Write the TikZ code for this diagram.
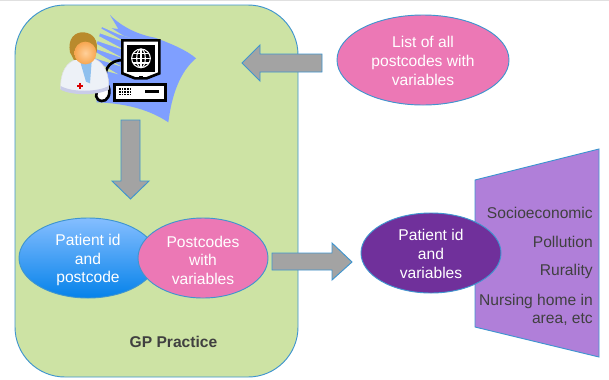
\documentclass[tikz,border=0pt]{standalone}
\usepackage{fontspec}
\setmainfont{Liberation Sans}
\usetikzlibrary{shapes.geometric}
\definecolor{edgeblue}{HTML}{3F95CF}
\definecolor{boxgreen}{HTML}{CDE3A4}
\definecolor{arrowgray}{HTML}{A3A3A3}
\definecolor{pinkfill}{HTML}{EC78B5}
\definecolor{purpledark}{HTML}{70309B}
\definecolor{purplelight}{HTML}{B07FD9}
\definecolor{flagblue}{HTML}{7F9FFF}
\definecolor{labelgray}{HTML}{404040}
\definecolor{hairbrown}{HTML}{B98A2C}
\definecolor{skinlight}{HTML}{FFD09A}
\definecolor{skindark}{HTML}{F7A650}
\definecolor{coatshade}{HTML}{C9CCE8}
\definecolor{tiewhite}{HTML}{EDF1F7}
\definecolor{tieblue}{HTML}{8FC0EE}
\definecolor{ovaltop}{HTML}{85BEFF}
\definecolor{ovalbottom}{HTML}{0582EA}
\newcommand\lift[1]{\rule{0pt}{#1}}
\tikzset{
  txt/.style={font=\fontsize{11.7}{13.9}\selectfont},
  oval/.style={ellipse,draw=edgeblue,line width=0.7pt,inner sep=0pt,align=center,text=white,txt},
  blockarrow/.style={draw=edgeblue,fill=arrowgray,line width=0.7pt,line join=miter},
  sidelabel/.style={anchor=east,align=right,text=labelgray,txt,inner sep=0pt},
}
\begin{document}
\begin{tikzpicture}[x=0.75pt,y=-0.75pt]
\useasboundingbox (0,0) rectangle (609,379);
\fill[white] (0,0) rectangle (609,379);
\fill[black!12] (0,0) rectangle (609,1.2);
% GP practice box
\draw[draw=edgeblue,fill=boxgreen,line width=0.7pt,rounded corners=37.5pt] (15,5) rectangle (298,377);
\node[font=\fontsize{11.7}{13.9}\selectfont\bfseries,text=labelgray,inner sep=0pt] (gp) at (173.5,341.5) {GP Practice};
% clinician icon, in the coordinates of a 3x crop at (40,15)
\begin{scope}[shift={(40,15)},x=0.25pt,y=-0.25pt]
  \fill[flagblue] (210,0) .. controls (250,40) and (300,60) .. (345,68)
     .. controls (390,85) and (440,105) .. (468,130)
     .. controls (420,170) and (395,240) .. (385,322)
     .. controls (330,285) and (260,265) .. (170,262)
     -- (160,120) -- (186,36) -- (235,42) -- cycle;
  % light streaks between the flag's ribbons
  \fill[boxgreen] (180,18) -- (250,62) -- (270,68) -- (235,58) -- (186,36) -- cycle;
  \fill[boxgreen] (150,30) -- (186,42) -- (262,84) -- (180,55) -- cycle;
  \fill[boxgreen] (150,55) -- (180,65) -- (260,108) -- (172,78) -- cycle;
  \fill[boxgreen] (150,80) -- (172,88) -- (250,130) -- (168,102) -- cycle;
  \fill[boxgreen] (150,105) -- (168,112) -- (245,155) -- (165,130) -- cycle;
  \fill[boxgreen] (150,135) -- (170,140) -- (235,178) -- (170,160) -- cycle;
  % cables
  \draw[black,line width=2pt] (250,135) .. controls (220,135) and (200,150) .. (197,175);
  \draw[black,line width=2pt,fill=white] (205,212) .. controls (215,240) and (200,260) .. (185,258) .. controls (165,255) and (165,235) .. (175,225);
  % doctor
  \path[fill=tiewhite,draw=black!12,line width=0.4pt] (62,222) .. controls (60,170) and (80,140) .. (112,132)
     -- (165,132) .. controls (195,145) and (208,180) .. (206,222)
     .. controls (170,240) and (95,240) .. (62,222) -- cycle;
  \fill[coatshade] (62,213) .. controls (95,232) and (170,232) .. (206,213) -- (206,224) .. controls (170,242) and (95,242) .. (62,224) -- cycle;
  \fill[tieblue] (122,145) -- (155,140) -- (150,205) -- (138,200) -- cycle;
  \fill[red!85!black] (117,203) rectangle (124,221);
  \fill[red!85!black] (112,209) rectangle (129,215);
  \fill[hairbrown] (90,112) .. controls (82,70) and (105,50) .. (132,52) .. controls (160,55) and (175,75) .. (170,110) -- (160,130) -- (102,135) -- cycle;
  \shade[inner color=skinlight,outer color=skindark] (136,114) ellipse (33 and 34);
  % computer
  \draw[black,line width=2pt,fill=white] (247,76) -- (358,76) -- (358,175) -- (320,190) -- (285,190) -- (247,175) -- cycle;
  \fill[black] (260,90) rectangle (345,170);
  \fill[black] (297,184) rectangle (310,192);
  \draw[white,line width=0.8pt] (303,130) circle (28);
  \draw[white,line width=0.8pt] (303,130) ellipse (13 and 28);
  \draw[white,line width=0.8pt] (303,102) -- (303,158) (275,130) -- (331,130) (279,116) -- (327,116) (279,144) -- (327,144);
  \draw[black,line width=2pt,fill=white] (223,209) rectangle (377,256);
  \fill[black] (315,226) rectangle (357,234);
  \foreach \i in {0,1,2,3,4}{\foreach \j in {0,1,2}{
    \fill[black] ({237+\i*8},{220+\j*8}) rectangle ++(5,5);}}
\end{scope}
% block arrows
\draw[blockarrow] (322,54) -- (260,54) -- (260,45) -- (242,63) -- (260,81) -- (260,72) -- (322,72) -- cycle;
\draw[blockarrow] (121,120) -- (140,120) -- (140,181) -- (149,181) -- (130.5,199) -- (112,181) -- (121,181) -- cycle;
\draw[blockarrow] (272,253) -- (332,253) -- (332,243) -- (352,262) -- (332,280) -- (332,270) -- (272,270) -- cycle;
% ellipses
\node[oval,top color=ovaltop,bottom color=ovalbottom,minimum width=103.5pt,minimum height=60pt] (pat) at (88,258) {\lift{11.6pt}Patient id\\and\\postcode};
\node[oval,fill=pinkfill,minimum width=97.5pt,minimum height=60pt] (post) at (203,258) {\lift{11.6pt}Postcodes\\with\\variables};
\node[oval,fill=pinkfill,minimum width=129pt,minimum height=67.5pt] (list) at (423,60) {\lift{9.9pt}List of all\\postcodes with\\variables};
% trapezoid
\draw[draw=edgeblue,fill=purplelight,line width=0.7pt] (475,180) -- (599,149) -- (599,357) -- (475,327) -- cycle;
\node[oval,fill=purpledark,minimum width=105pt,minimum height=60pt] (res) at (431,253) {\lift{9.9pt}Patient id\\and\\variables};
\node[sidelabel] (l1) at (593,213) {Socioeconomic};
\node[sidelabel] (l2) at (593,242) {Pollution};
\node[sidelabel] (l3) at (593,271) {Rurality};
\node[sidelabel] (l4) at (593,310) {Nursing home in\\area, etc};
\end{tikzpicture}
\end{document}
